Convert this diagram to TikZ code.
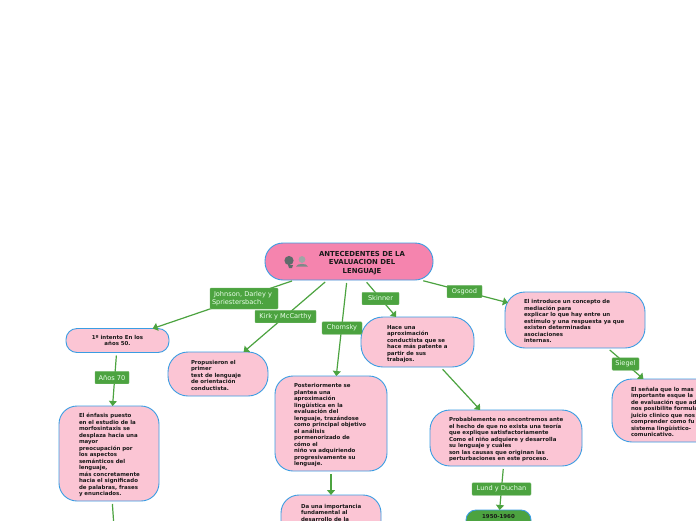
\documentclass[tikz,border=0pt]{standalone}
\usepackage{fontspec}
\setmainfont{DejaVu Sans}
\usetikzlibrary{arrows.meta}
\definecolor{cgreen}{HTML}{4CA340}
\definecolor{cblue}{HTML}{3A9DE3}
\definecolor{cpink}{HTML}{FBC5D4}
\definecolor{croot}{HTML}{F584AE}
\definecolor{cicon}{HTML}{5F6B6B}
\newcommand{\tleft}[3]{\makebox[#1pt][l]{\hspace*{#2pt}\raisebox{-3.3pt}[0pt][0pt]{\begin{tabular}{@{}l@{}}#3\end{tabular}}}}
\tikzset{
  tbox/.style n args={3}{draw=cblue,line width=0.9pt,fill=cpink,rounded corners=#3pt,
     minimum width=#1pt,minimum height=#2pt,inner xsep=0pt,inner ysep=0pt,
     outer sep=0pt,font=\fontsize{5.45}{6.5}\selectfont\bfseries,text=black!90},
  lab/.style={fill=cgreen,draw=cgreen!80!white,line width=0.4pt,rounded corners=1pt,text=white!92!green,inner xsep=0pt,inner ysep=0pt,
     font=\fontsize{6.6}{8.6}\selectfont,align=left,outer sep=0pt,minimum height=12.5pt},
  conn/.style={draw=cgreen,line width=1.2pt,shorten <=3pt,-{Triangle[length=5pt,width=8pt]}},
  plain/.style={draw=cgreen,line width=1.2pt,shorten <=3pt},
}
\begin{document}
\begin{tikzpicture}[x=1pt,y=-1pt]
\useasboundingbox (0,0) rectangle (696,520);
\clip (0,0) rectangle (696,520);
\fill[white] (0,0) rectangle (696,520);
% nodes
\node[tbox={168}{37}{18},fill=croot,font=\fontsize{6.9}{8.6}\selectfont\bfseries] (root) at (349,261.5)
  {\hspace*{26pt}\raisebox{-3.3pt}[0pt][0pt]{\begin{tabular}{@{}c@{}}ANTECEDENTES DE LA\\EVALUACION DEL\\LENGUAJE\end{tabular}}};
\node[tbox={103}{24}{11},align=center] (intento) at (117.5,340.5) {1º intento En los\\años 50.};
\node[tbox={100}{44}{20}] (prop) at (218,374) {\tleft{100}{23}{Propusieron el\\primer\\test de lenguaje\\de orientación\\conductista.}};
\node[tbox={113}{50}{22}] (hace) at (417.5,342) {\tleft{113}{26}{Hace una\\aproximación\\conductista que se\\hace más patente a\\partir de sus\\trabajos.}};
\node[tbox={140}{56}{20}] (intro) at (575,320) {\tleft{140}{19}{El introduce un concepto de\\mediación para\\explicar lo que hay entre un\\estímulo y una respuesta ya que\\existen determinadas\\asociaciones\\internas.}};
\node[tbox={100}{95}{18}] (enf) at (109,453.5) {\tleft{100}{20}{El énfasis puesto\\en el estudio de la\\morfosintaxis se\\desplaza hacia una\\mayor\\preocupación por\\los aspectos\\semánticos del\\lenguaje,\\más concretamente\\hacia el significado\\de palabras, frases\\y enunciados.}};
\node[tbox={112}{95}{18}] (post) at (331,423.5) {\tleft{112}{19}{Posteriormente se\\plantea una\\aproximación\\lingüística en la\\evaluación del\\lenguaje, trazándose\\como principal objetivo\\el análisis\\pormenorizado de\\cómo el\\niño va adquiriendo\\progresivamente su\\lenguaje.}};
\node[tbox={152}{56}{20}] (proba) at (506,438) {\tleft{152}{19}{Probablemente no encontremos ante\\el hecho de que no exista una teoría\\que explique satisfactoriamente\\Como el niño adquiere y desarrolla\\su lenguaje y cuáles\\son las causas que originan las\\perturbaciones en este proceso.}};
\node[tbox={136}{63}{20}] (sie) at (680,410.5) {\tleft{136}{19}{El señala que lo mas\\importante esque la\\de evaluación que ad\\nos posibilite formula\\juicio clinico que nos\\comprender como fu\\sistema lingüístico-\\comunicativo.}};
\node[tbox={100}{65}{18}] (da) at (331,527.5) {\tleft{100}{20}{Da una importancia\\fundamental al\\desarrollo de la\\~\\~\\~\\~\\~}};
\node[tbox={65}{25}{10},fill=cgreen,align=center] (dec) at (498.5,522.5) {1950-1960\\~\\~};
\coordinate (below) at (114.5,535);
% connectors
\draw[conn] (root) -- (intento);
\draw[conn] (root) -- (prop);
\draw[conn] (root) -- (post);
\draw[conn] (root) -- (hace);
\draw[conn,shorten >=-3pt] (root) -- (intro);
\draw[conn] (intento) -- (enf);
\draw[conn] (hace) -- (proba);
\draw[conn] (intro) -- (sie);
\draw[conn] (proba) -- (dec);
\draw[conn] (post) -- (da);
\draw[plain] (enf) -- (below);
% labels
\node[lab,minimum width=68pt,minimum height=21pt,text width=64pt] (l1) at (244,298.5) {\hspace*{2pt}Johnson, Darley y\\Spriestersbach.};
\node[lab,minimum width=61pt] (l2) at (285.5,316.5) {Kirk y McCarthy};
\node[lab,minimum width=40pt] (l3) at (342,328) {Chomsky};
\node[lab,minimum width=37pt] (l4) at (380.5,298.5) {Skinner};
\node[lab,minimum width=35pt] (l5) at (464.5,291.5) {Osgood};
\node[lab,minimum width=34pt] (l6) at (112,377.5) {Años 70};
\node[lab,minimum width=27pt] (l7) at (625.5,364) {Siegel};
\node[lab,minimum width=59pt] (l8) at (501.5,489) {Lund y Duchan};
% icon
\fill[cicon] (289,260.5) circle (4.6pt);
\fill[cicon] (288,265) -- (293,265) -- (292,268) -- (289,268) -- cycle;
\fill[cicon!60] (302,259.5) circle (3.4pt);
\fill[cicon!80] (296,266.5) .. controls (297,263) and (307,263) .. (308,266.5) -- cycle;
\end{tikzpicture}
\end{document}
